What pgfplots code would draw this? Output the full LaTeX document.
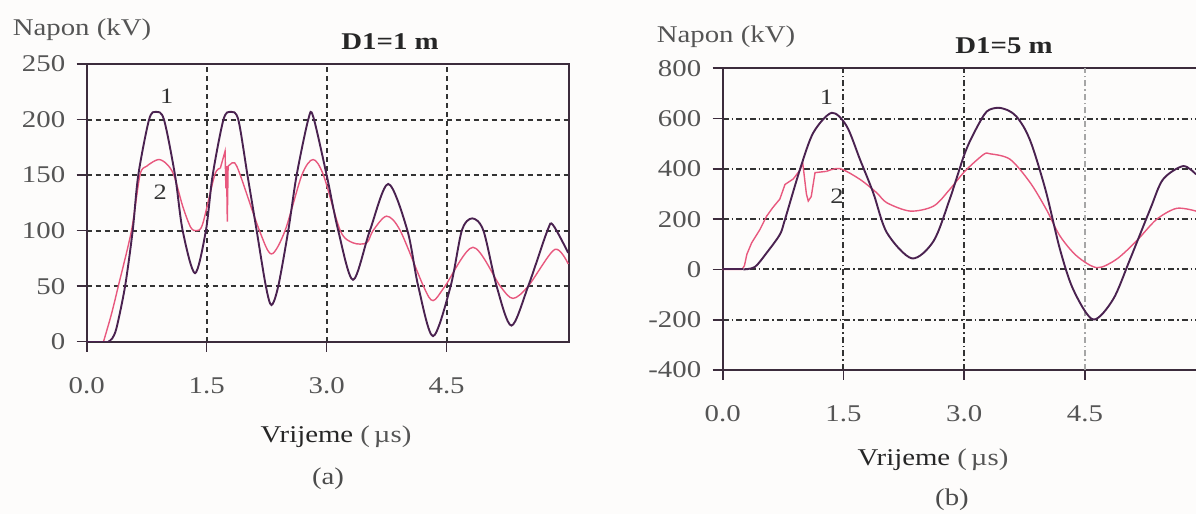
\documentclass[border=0pt]{standalone}
\usepackage{fontspec}
\setmainfont{Liberation Serif}[FakeStretch=1.2]
\usepackage{pgfplots}
\pgfplotsset{compat=1.18}
\definecolor{cone}{HTML}{4A2250}
\definecolor{ctwo}{HTML}{E8587E}
\definecolor{axc}{HTML}{3C2C3C}
\definecolor{gridc}{HTML}{333333}
\definecolor{txt}{HTML}{555555}
\definecolor{bg}{HTML}{FDFCFB}
\newcommand{\fs}{\fontsize{24bp}{26bp}\selectfont}
\pgfplotsset{
  common/.style={
    scale only axis,
    tick align=outside, major tick length=10bp,
    axis line style={axc, line width=2bp},
    every tick/.style={axc, line width=1.6bp},
    tick label style={font=\fs, text=txt},
    /pgf/number format/assume math mode=true,
    grid=major,
  },
  c1/.style={cone, line width=1.9bp},
  c2/.style={ctwo, line width=1.4bp},
}
\begin{document}
\begin{tikzpicture}
\useasboundingbox (0,0) rectangle (1196bp,514bp);
\fill[bg] (0,0) rectangle (1196bp,514bp);
% ---------------- panel (a) ----------------
\begin{axis}[common,
  at={(86.7bp,172.3bp)}, anchor=south west,
  width=482.3bp, height=277.7bp,
  xmin=0, xmax=6.03, ymin=0, ymax=250,
  xtick={0,1.5,3,4.5}, xticklabels={0.0,1.5,3.0,4.5},
  ytick={0,50,100,150,200,250},
  tick pos=left,
  grid style={gridc, line width=2bp, dash pattern=on 5bp off 4bp},
  xticklabel style={yshift=-22bp},
  yticklabel style={xshift=-8bp},
]
\addplot[c2] coordinates {(0,0)(0.21,0)};
\addplot[c2, smooth, tension=0.5] coordinates {(0.21,0)(0.31,25)(0.395,50)(0.56,100)(0.666,150)(0.75,158)(0.895,164)(1.0,160)(1.09,150)(1.2,122)(1.3,103)(1.375,100)(1.45,106)(1.60,150)(1.67,156)};
\addplot[c2] coordinates {(1.67,156)(1.73,171.5)(1.74,138)(1.748,158)(1.758,108)(1.768,158)(1.80,160)};
\addplot[c2, smooth, tension=0.5] coordinates {(1.80,160)(1.85,161)(1.92,150)(2.16,100)(2.31,79)(2.48,100)(2.69,150)(2.83,164)(2.96,150)(3.17,100)(3.33,89)(3.50,89)(3.58,100)(3.75,113)(3.92,100)(4.21,50)(4.33,37)(4.48,50)(4.83,85)(5.17,50)(5.33,39)(5.52,50)(5.85,83)(6.02,70)};
\addplot[c1] coordinates {(0,0)(0.27,0)};
\addplot[c1, smooth, tension=0.5] coordinates {(0.27,0)(0.32,3)(0.375,13)(0.48,50)(0.575,100)(0.645,150)(0.78,200)(0.866,207)(0.966,200)(1.104,150)(1.20,100)(1.354,61.7)(1.49,100)(1.575,150)(1.71,200)(1.80,207)(1.895,200)(2.01,150)(2.125,100)(2.24,50)(2.31,33)(2.395,50)(2.52,100)(2.625,150)(2.77,200)(2.83,203)(3.0,150)(3.145,100)(3.33,55.7)(3.54,100)(3.77,142)(4.01,100)(4.145,50)(4.33,5)(4.55,50)(4.69,100)(4.82,111)(4.96,100)(5.125,50)(5.31,14.5)(5.52,50)(5.76,100)(5.83,105)(6.02,80)};
\node[font=\fontsize{22bp}{24bp}\selectfont, text=black!80] at (axis cs:1.0,221) {1};
\node[font=\fontsize{22bp}{24bp}\selectfont, text=black!80] at (axis cs:0.92,135) {2};
\end{axis}
% ---------------- panel (b) ----------------
\begin{axis}[common,
  at={(722.7bp,144bp)}, anchor=south west,
  width=473.3bp, height=301.7bp,
  xmin=0, xmax=5.88, ymin=-400, ymax=800,
  axis x line*=box, axis y line*=left,
  xtick={0,1.5,3}, xticklabels={0.0,1.5,3.0},
  extra x ticks={4.5}, extra x tick labels={4.5},
  extra x tick style={grid style={gray!70, line width=1.2bp, dash pattern=on 6bp off 3bp on 1.5bp off 3bp}},
  ytick={-400,-200,0,200,400,600,800},
  tick pos=left,
  grid style={gridc, line width=2bp, dash pattern=on 6bp off 3bp on 1.5bp off 3bp},
  xticklabel style={yshift=-22bp},
  yticklabel style={xshift=-8bp},
]
\addplot[c2] coordinates {(0,0)(0.24,0)(0.27,15)(0.30,60)(0.36,106)(0.463,159)(0.546,212)(0.62,245)(0.71,280)(0.774,338)(0.877,360)(0.96,395)(0.994,424)(1.04,300)(1.063,272)(1.10,290)(1.147,385)(1.29,390)};
\addplot[c2, smooth, tension=0.5] coordinates {(1.29,390)(1.457,401)(1.706,358)(1.913,305)(2.04,265)(2.33,232)(2.62,252)(2.82,318)(3.01,391)(3.24,457)(3.32,460)(3.57,438)(3.82,345)(4.02,239)(4.19,133)(4.40,53)(4.65,7)(4.89,40)(5.14,113)(5.39,199)(5.64,243)(5.88,232)};
\addplot[c1] coordinates {(0,0)(0.256,0)};
\addplot[c1, smooth, tension=0.5] coordinates {(0.256,0)(0.40,10)(0.546,66)(0.71,139)(0.774,199)(0.96,398)(1.126,544)(1.354,623)(1.54,570)(1.706,437)(1.87,305)(2.04,146)(2.35,44)(2.62,113)(2.82,279)(3.01,464)(3.15,560)(3.28,628)(3.42,643)(3.55,632)(3.65,608)(3.76,555)(3.86,477)(4.02,305)(4.19,80)(4.355,-80)(4.60,-199)(4.85,-119)(5.06,40)(5.31,239)(5.47,358)(5.72,411)(5.88,378)};
\node[font=\fontsize{22bp}{24bp}\selectfont, text=black!80] at (axis cs:1.29,683) {1};
\node[font=\fontsize{22bp}{24bp}\selectfont, text=black!80] at (axis cs:1.42,292) {2};
\end{axis}
% ---------------- texts ----------------
\node[font=\fs, text=txt] at (82bp,484bp) {Napon (kV)};
\node[font=\fs\bfseries, text=black!85] at (390bp,472bp) {D1=1 m};
\node[font=\fs] at (336bp,77bp) {\textcolor{black!85}{Vrijeme}\ \textcolor{txt}{(\,µs)}};
\node[font=\fs, text=black!70] at (328bp,35bp) {(a)};
\node[font=\fs, text=txt] at (726bp,477bp) {Napon (kV)};
\node[font=\fs\bfseries, text=black!85] at (1004bp,468bp) {D1=5 m};
\node[font=\fs] at (933bp,54bp) {\textcolor{black!85}{Vrijeme}\ \textcolor{txt}{(\,µs)}};
\node[font=\fs, text=black!70] at (952bp,14bp) {(b)};
\end{tikzpicture}
\end{document}
